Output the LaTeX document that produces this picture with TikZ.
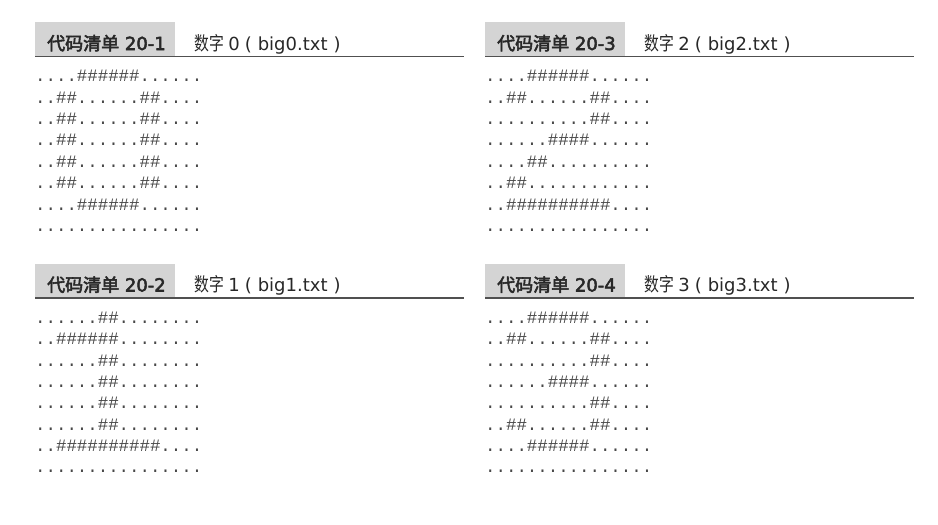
\documentclass[tikz,border=0pt]{standalone}
\usepackage{fontspec}
\setmainfont{DejaVu Sans}
\newfontfamily\cjkb[FakeBold=3]{Noto Sans CJK SC}
\newfontfamily\latb[FakeBold=3]{DejaVu Sans}
\newfontfamily\cjkn[FakeStretch=0.78]{Noto Sans CJK SC}
\newfontfamily\mono{Liberation Mono}
\definecolor{boxgray}{RGB}{212,212,212}
\definecolor{rulegray}{RGB}{80,80,80}
\definecolor{txtgray}{RGB}{40,40,40}
\definecolor{codegray}{RGB}{72,72,72}
\def\h{\#}
\newcommand\codepanel[5]{%
  \node[hdrbox, anchor=north west] (#1box) at (#2,#3) {};
  \coordinate (#1end) at ([xshift=429pt]#1box.south west);
  \draw[hdrrule] (#1box.south west) -- (#1end);
  \node[hdrlabel] (#1lab) at ([xshift=12pt,yshift=-28pt]#1box.north west) {{\cjkb 代码清单} {\latb #4}};
  \node[hdrtitle] (#1tit) at ([xshift=159pt,yshift=-28pt]#1box.north west) {{\cjkn\fontsize{19}{20}\selectfont 数字}\hspace{4.5pt}#5\hspace{5pt}(\hspace{6pt}big#5.txt\hspace{6pt})};
}
\newcommand\crow[3]{%
  \pgfmathsetmacro\yy{25.5+(#2-1)*21.35}%
  \node[coderow] (#1r#2) at ([yshift=-\yy pt]#1box.south west) {#3};
}
\newcommand\coderows[9]{%
  \crow{#1}{1}{#2}\crow{#1}{2}{#3}\crow{#1}{3}{#4}\crow{#1}{4}{#5}%
  \crow{#1}{5}{#6}\crow{#1}{6}{#7}\crow{#1}{7}{#8}\crow{#1}{8}{#9}%
}
\begin{document}
\begin{tikzpicture}[x=1pt,y=-1pt,
  hdrbox/.style={fill=boxgray, draw=none, inner sep=0, minimum width=140pt, minimum height=34pt},
  hdrrule/.style={draw=rulegray, line width=1.4pt},
  hdrlabel/.style={anchor=base west, inner sep=0, text=txtgray, font=\fontsize{18}{20}\selectfont},
  hdrtitle/.style={anchor=base west, inner sep=0, text=txtgray, font=\fontsize{18}{20}\selectfont},
  coderow/.style={anchor=base west, inner sep=0, text=codegray, font=\mono\fontsize{17.4}{20}\selectfont}]
\useasboundingbox (0,0) rectangle (938,525);
\fill[white] (0,0) rectangle (938,525);

\codepanel{a}{35}{22}{20-1}{0}
\coderows{a}{....\h\h\h\h\h\h......}{..\h\h......\h\h....}{..\h\h......\h\h....}{..\h\h......\h\h....}{..\h\h......\h\h....}{..\h\h......\h\h....}{....\h\h\h\h\h\h......}{................}

\codepanel{b}{35}{263.5}{20-2}{1}
\coderows{b}{......\h\h........}{..\h\h\h\h\h\h........}{......\h\h........}{......\h\h........}{......\h\h........}{......\h\h........}{..\h\h\h\h\h\h\h\h\h\h....}{................}

\codepanel{c}{485}{22}{20-3}{2}
\coderows{c}{....\h\h\h\h\h\h......}{..\h\h......\h\h....}{..........\h\h....}{......\h\h\h\h......}{....\h\h..........}{..\h\h............}{..\h\h\h\h\h\h\h\h\h\h....}{................}

\codepanel{d}{485}{263.5}{20-4}{3}
\coderows{d}{....\h\h\h\h\h\h......}{..\h\h......\h\h....}{..........\h\h....}{......\h\h\h\h......}{..........\h\h....}{..\h\h......\h\h....}{....\h\h\h\h\h\h......}{................}
\end{tikzpicture}
\end{document}
